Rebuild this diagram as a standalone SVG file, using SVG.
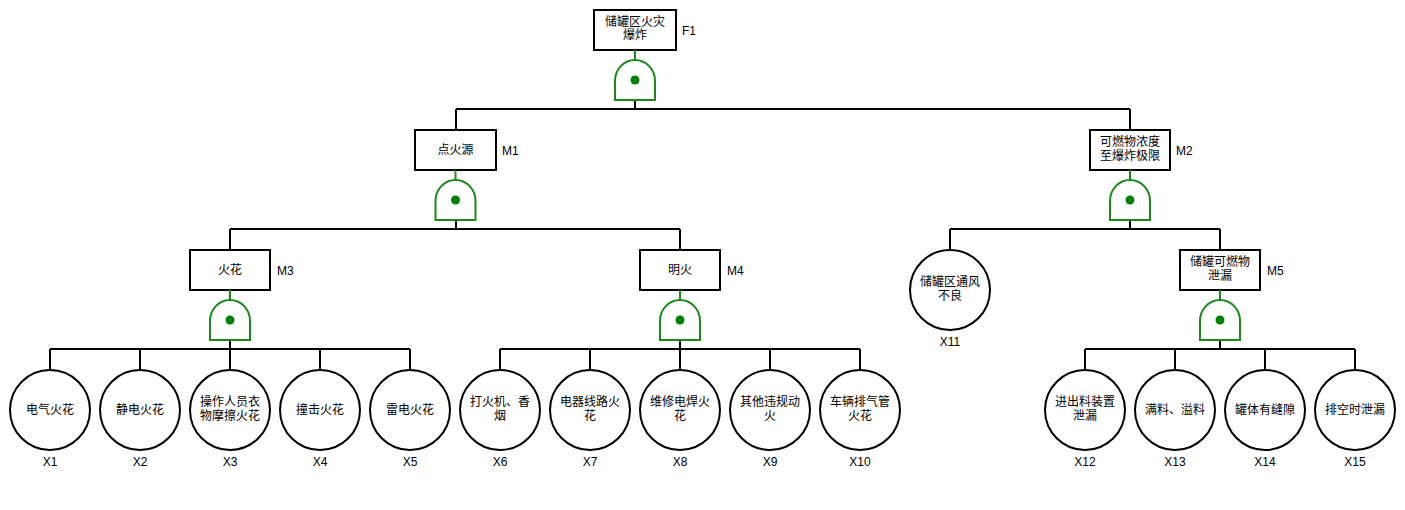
<svg xmlns="http://www.w3.org/2000/svg" width="1405" height="510" viewBox="0 0 1405 510">
<style>
.box{fill:#fff;stroke:#000;stroke-width:2}
.leaf{fill:#fff;stroke:#000;stroke-width:2}
.gate{fill:#fff;stroke:#1a8a1a;stroke-width:2}
.dot{fill:#008000}
.gl{stroke:#1a8a1a;stroke-width:2}
.ln{stroke:#000;stroke-width:2;fill:none}
.t{font-family:"Liberation Sans","Noto Sans CJK SC",sans-serif;font-size:12px;fill:#000;text-anchor:middle}
.lb{font-family:"Liberation Sans","Noto Sans CJK SC",sans-serif;font-size:12px;fill:#000}
</style>
<defs>
<g id="gateShape">
<line class="gl" x1="0" y1="-10" x2="0" y2="0"/>
<path class="gate" d="M-20,40 L-20,21 A20,21 0 0 1 20,21 L20,40 Z"/>
<circle class="dot" cx="0" cy="20" r="4.5"/>
</g>
</defs>
<g id="connectors">
<path class="ln" d="M635,100 V109 M456,109 H1130 M456,109 V130 M1130,109 V130"/>
<path class="ln" d="M456,220 V229 M230,229 H680 M230,229 V250 M680,229 V250"/>
<path class="ln" d="M1130,220 V229 M950,229 H1220 M950,229 V250 M1220,229 V250"/>
<path class="ln" d="M230,340 V349 M50,349 H410 M50,349 V370 M140,349 V370 M230,349 V370 M320,349 V370 M410,349 V370"/>
<path class="ln" d="M680,340 V349 M500,349 H860 M500,349 V370 M590,349 V370 M680,349 V370 M770,349 V370 M860,349 V370"/>
<path class="ln" d="M1220,340 V349 M1085,349 H1355 M1085,349 V370 M1175,349 V370 M1265,349 V370 M1355,349 V370"/>
</g>
<g id="F1">
<rect class="box" x="594" y="10" width="82" height="40"/>
<text class="t" x="635" y="26">储罐区火灾</text>
<text class="t" x="635" y="39">爆炸</text>
<text class="lb" x="682" y="35">F1</text>
<use href="#gateShape" x="635" y="60"/>
</g>
<g id="M1">
<rect class="box" x="415" y="130" width="81" height="40"/>
<text class="t" x="455.5" y="154">点火源</text>
<text class="lb" x="502" y="155">M1</text>
<use href="#gateShape" x="455.5" y="180"/>
</g>
<g id="M2">
<rect class="box" x="1090" y="130" width="80" height="40"/>
<text class="t" x="1130" y="146">可燃物浓度</text>
<text class="t" x="1130" y="160">至爆炸极限</text>
<text class="lb" x="1176" y="155">M2</text>
<use href="#gateShape" x="1130" y="180"/>
</g>
<g id="M3">
<rect class="box" x="190" y="250" width="80" height="40"/>
<text class="t" x="230" y="274">火花</text>
<text class="lb" x="277" y="275">M3</text>
<use href="#gateShape" x="230" y="300"/>
</g>
<g id="M4">
<rect class="box" x="640" y="250" width="80" height="40"/>
<text class="t" x="680" y="274">明火</text>
<text class="lb" x="727" y="275">M4</text>
<use href="#gateShape" x="680" y="300"/>
</g>
<g id="M5">
<rect class="box" x="1180" y="250" width="80" height="40"/>
<text class="t" x="1220" y="266">储罐可燃物</text>
<text class="t" x="1220" y="280">泄漏</text>
<text class="lb" x="1267" y="275">M5</text>
<use href="#gateShape" x="1220" y="300"/>
</g>
<g id="X11">
<circle class="leaf" cx="950" cy="290" r="40"/>
<text class="t" x="950" y="286">储罐区通风</text>
<text class="t" x="950" y="300">不良</text>
<text class="t" x="950" y="346">X11</text>
</g>
<g id="X1"><circle class="leaf" cx="50" cy="410" r="40"/><text class="t" x="50" y="414">电气火花</text><text class="t" x="50" y="466">X1</text></g>
<g id="X2"><circle class="leaf" cx="140" cy="410" r="40"/><text class="t" x="140" y="414">静电火花</text><text class="t" x="140" y="466">X2</text></g>
<g id="X3"><circle class="leaf" cx="230" cy="410" r="40"/><text class="t" x="230" y="406">操作人员衣</text><text class="t" x="230" y="420">物摩擦火花</text><text class="t" x="230" y="466">X3</text></g>
<g id="X4"><circle class="leaf" cx="320" cy="410" r="40"/><text class="t" x="320" y="414">撞击火花</text><text class="t" x="320" y="466">X4</text></g>
<g id="X5"><circle class="leaf" cx="410" cy="410" r="40"/><text class="t" x="410" y="414">雷电火花</text><text class="t" x="410" y="466">X5</text></g>
<g id="X6"><circle class="leaf" cx="500" cy="410" r="40"/><text class="t" x="500" y="406">打火机、香</text><text class="t" x="500" y="420">烟</text><text class="t" x="500" y="466">X6</text></g>
<g id="X7"><circle class="leaf" cx="590" cy="410" r="40"/><text class="t" x="590" y="406">电器线路火</text><text class="t" x="590" y="420">花</text><text class="t" x="590" y="466">X7</text></g>
<g id="X8"><circle class="leaf" cx="680" cy="410" r="40"/><text class="t" x="680" y="406">维修电焊火</text><text class="t" x="680" y="420">花</text><text class="t" x="680" y="466">X8</text></g>
<g id="X9"><circle class="leaf" cx="770" cy="410" r="40"/><text class="t" x="770" y="406">其他违规动</text><text class="t" x="770" y="420">火</text><text class="t" x="770" y="466">X9</text></g>
<g id="X10"><circle class="leaf" cx="860" cy="410" r="40"/><text class="t" x="860" y="406">车辆排气管</text><text class="t" x="860" y="420">火花</text><text class="t" x="860" y="466">X10</text></g>
<g id="X12"><circle class="leaf" cx="1085" cy="410" r="40"/><text class="t" x="1085" y="406">进出料装置</text><text class="t" x="1085" y="420">泄漏</text><text class="t" x="1085" y="466">X12</text></g>
<g id="X13"><circle class="leaf" cx="1175" cy="410" r="40"/><text class="t" x="1175" y="414">满料、溢料</text><text class="t" x="1175" y="466">X13</text></g>
<g id="X14"><circle class="leaf" cx="1265" cy="410" r="40"/><text class="t" x="1265" y="414">罐体有缝隙</text><text class="t" x="1265" y="466">X14</text></g>
<g id="X15"><circle class="leaf" cx="1355" cy="410" r="40"/><text class="t" x="1355" y="414">排空时泄漏</text><text class="t" x="1355" y="466">X15</text></g>
</svg>
